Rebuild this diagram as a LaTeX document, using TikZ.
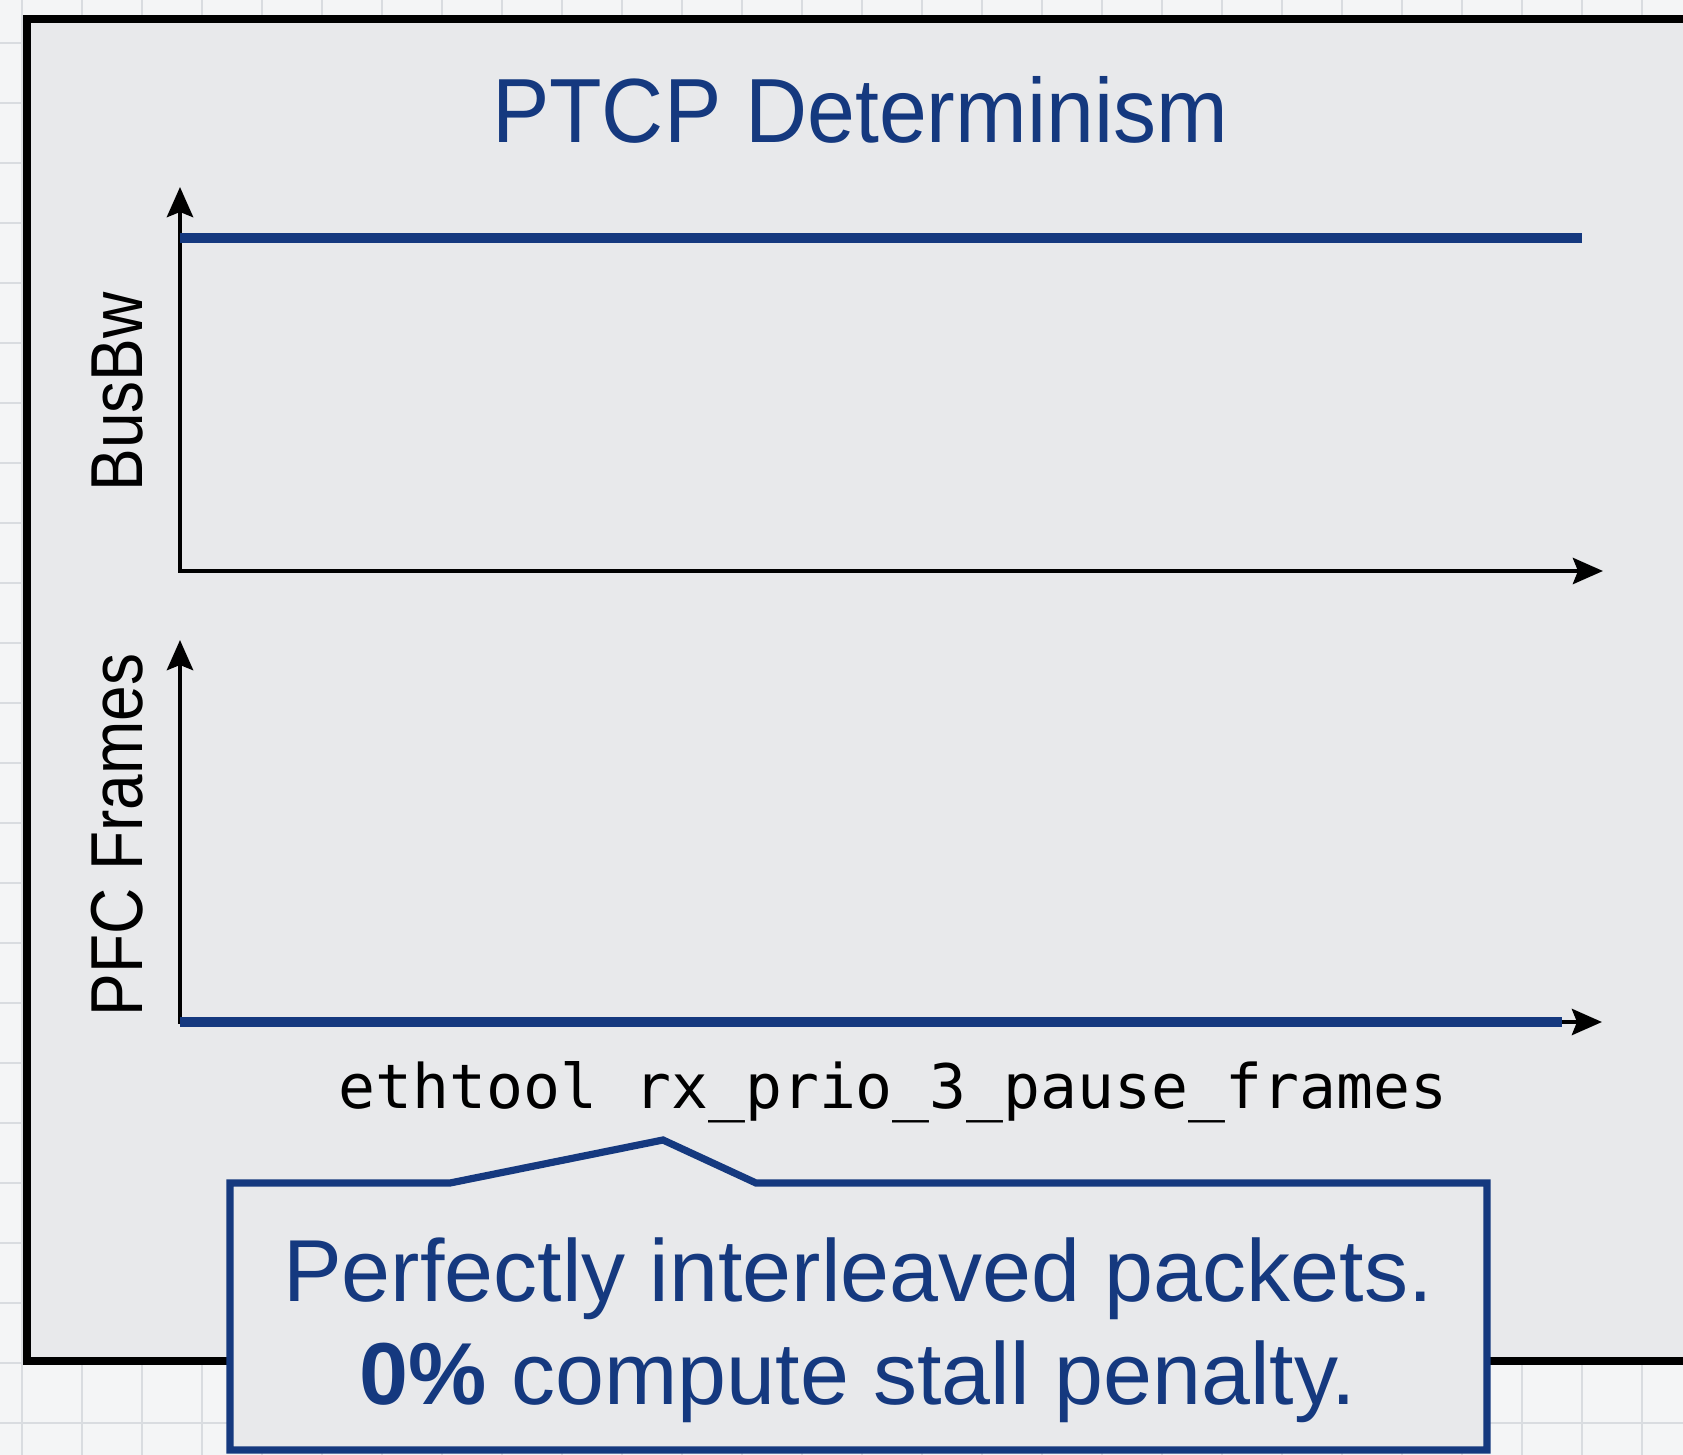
\documentclass[tikz,border=0pt]{standalone}
\usepackage{fontspec}
\setmainfont{Liberation Sans}
\newfontfamily\codefont{DejaVu Sans Mono}
\usetikzlibrary{arrows.meta}
\definecolor{navy}{HTML}{15397F}
\definecolor{panelgray}{HTML}{E8E9EB}
\definecolor{bggray}{HTML}{F4F5F6}
\definecolor{gridgray}{HTML}{D9DCE0}
\begin{document}
\begin{tikzpicture}[x=0.5pt,y=-0.5pt,
  axisline/.style={black, line width=2.4pt, line join=miter, {Stealth[length=15pt,width=13pt,inset=2.5pt]}-{Stealth[length=15pt,width=13pt,inset=2.5pt]}},
  series/.style={navy, line width=5.2pt},
  axlabel/.style={rotate=90, anchor=base, inner sep=0pt, font=\fontsize{32pt}{38pt}\selectfont},
  titletext/.style={anchor=base, inner sep=0pt, text=navy, font=\fontsize{43pt}{50pt}\selectfont},
  calltext/.style={anchor=base, inner sep=0pt, text=navy, font=\fontsize{44pt}{52pt}\selectfont},
  codetext/.style={anchor=base, inner sep=0pt, font=\codefont\fontsize{30.7pt}{36pt}\selectfont}]
\useasboundingbox (0,0) rectangle (1683,1455);
% background grid
\fill[bggray] (0,0) rectangle (1683,1455);
\foreach \gx in {22,82,...,1682} \draw[gridgray, line width=0.8pt] (\gx,0) -- (\gx,1455);
\foreach \gy in {43,103,...,1455} \draw[gridgray, line width=0.8pt] (0,\gy) -- (1683,\gy);
% panel
\draw[line width=4pt, fill=panelgray] (27,19) rectangle (1760,1361);
% title
\node[titletext] (title) at (860,143) {\scalebox{1}[1.06]{PTCP Determinism}};
% top chart
\coordinate (ytop1) at (180,187);
\coordinate (xend1) at (1603,571);
\draw[axisline] (ytop1) |- (xend1);
\coordinate (bw0) at (180,238);
\coordinate (bw1) at (1582,238);
\draw[series] (bw0) -- (bw1);
\node[axlabel] (lbl1) at (142,392) {\scalebox{1}[1.15]{BusBw}};
% bottom chart
\coordinate (ytop2) at (180,640);
\coordinate (xend2) at (1602,1022);
\draw[axisline] (ytop2) |- (xend2);
\coordinate (pfc0) at (180,1022);
\coordinate (pfc1) at (1562,1022);
\draw[series] (pfc0) -- (pfc1);
\node[axlabel] (lbl2) at (142,835) {\scalebox{1}[1.15]{PFC Frames}};
% command
\node[codetext] (cmd) at (893,1108) {ethtool rx\_prio\_3\_pause\_frames};
% callout
\draw[navy, line width=3.6pt, line join=miter, fill=panelgray]
  (230,1183) -- (450,1183) -- (663,1140) -- (756,1183) -- (1487,1183) -- (1487,1450) -- (230,1450) -- cycle;
\node[calltext] (call1) at (858,1301) {Perfectly interleaved packets.};
\node[calltext] (call2) at (858,1404) {\textbf{0\%} compute stall penalty.};
\end{tikzpicture}
\end{document}
